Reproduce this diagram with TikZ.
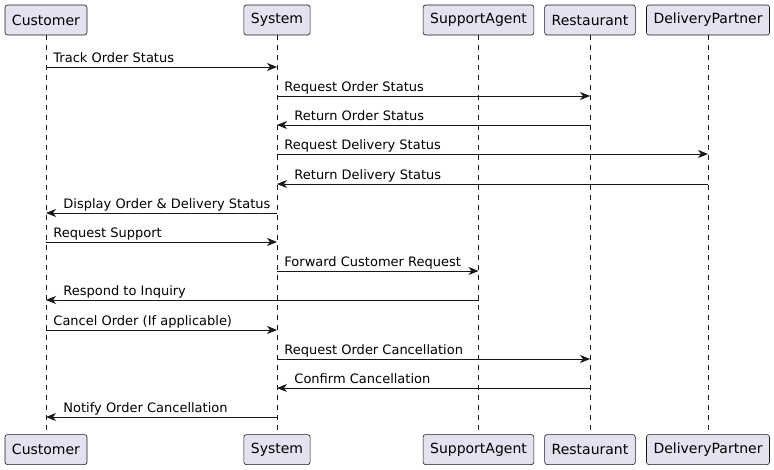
\documentclass[tikz,border=0pt]{standalone}
\usepackage{fontspec}
\setmainfont{DejaVu Sans}
\usetikzlibrary{positioning,arrows.meta}
\definecolor{boxfill}{HTML}{E2E2F0}
\definecolor{ink}{HTML}{181818}

\begin{document}
\begin{tikzpicture}[x=1pt, y=-1pt,
    part/.style={draw=ink, fill=boxfill, line width=0.6pt, rounded corners=2.5pt,
        minimum height=30pt, inner xsep=7pt, font=\fontsize{14}{16}\selectfont},
    life/.style={draw=ink, line width=0.5pt, dash pattern=on 5pt off 5pt},
    msg/.style={draw=ink, line width=0.9pt, -{Stealth[length=10pt, width=8pt, inset=3pt]}},
    rlbl/.style={pos=0, anchor=base west, xshift=7pt, yshift=5pt, inner sep=0pt,
        font=\fontsize{13}{15}\selectfont},
    llbl/.style={pos=1, anchor=base west, xshift=17pt, yshift=5pt, inner sep=0pt,
        font=\fontsize{13}{15}\selectfont}]
    \useasboundingbox (0,0) rectangle (774,469);
    % participants
    \node[part] (custT) at (46,20) {Customer};
    \node[part] (sysT) at (277,20) {System};
    \node[part] (agentT) at (478.5,20) {SupportAgent};
    \node[part] (restT) at (590,20) {Restaurant};
    \node[part] (delivT) at (708,20) {DeliveryPartner};
    \node[part] (custB) [below=399pt of custT] {Customer};
    \node[part] (sysB) [below=399pt of sysT] {System};
    \node[part] (agentB) [below=399pt of agentT] {SupportAgent};
    \node[part] (restB) [below=399pt of restT] {Restaurant};
    \node[part] (delivB) [below=399pt of delivT] {DeliveryPartner};
    % lifelines
    \draw[life] (custT) -- (custB);
    \draw[life] (sysT) -- (sysB);
    \draw[life] (agentT) -- (agentB);
    \draw[life] (restT) -- (restB);
    \draw[life] (delivT) -- (delivB);
    % messages
    \draw[msg] (custT |- 0,67) -- node[rlbl] {Track Order Status} (sysT |- 0,67);
    \draw[msg] (sysT |- 0,96) -- node[rlbl] {Request Order Status} (restT |- 0,96);
    \draw[msg] (restT |- 0,125) -- node[llbl] {Return Order Status} (sysT |- 0,125);
    \draw[msg] (sysT |- 0,154) -- node[rlbl] {Request Delivery Status} (delivT |- 0,154);
    \draw[msg] (delivT |- 0,184) -- node[llbl] {Return Delivery Status} (sysT |- 0,184);
    \draw[msg] (sysT |- 0,213) -- node[llbl] {Display Order \& Delivery Status} (custT |- 0,213);
    \draw[msg] (custT |- 0,242) -- node[rlbl] {Request Support} (sysT |- 0,242);
    \draw[msg] (sysT |- 0,271) -- node[rlbl] {Forward Customer Request} (agentT |- 0,271);
    \draw[msg] (agentT |- 0,300) -- node[llbl] {Respond to Inquiry} (custT |- 0,300);
    \draw[msg] (custT |- 0,330) -- node[rlbl] {Cancel Order (If applicable)} (sysT |- 0,330);
    \draw[msg] (sysT |- 0,359) -- node[rlbl] {Request Order Cancellation} (restT |- 0,359);
    \draw[msg] (restT |- 0,388) -- node[llbl] {Confirm Cancellation} (sysT |- 0,388);
    \draw[msg] (sysT |- 0,417) -- node[llbl] {Notify Order Cancellation} (custT |- 0,417);
\end{tikzpicture}
\end{document}
